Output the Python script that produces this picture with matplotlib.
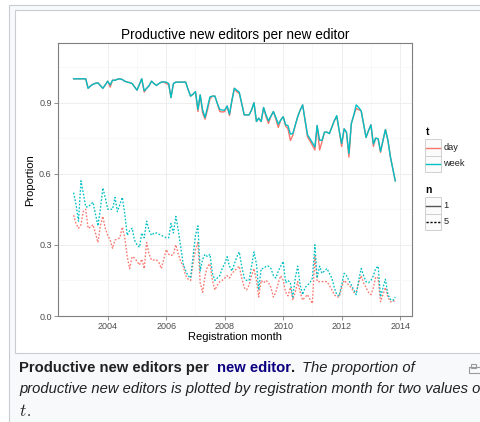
import numpy as np
import pandas as pd
import matplotlib
matplotlib.use('Agg')
import matplotlib.pyplot as plt
from matplotlib.patches import Rectangle

plt.rcParams['font.family'] = ['Liberation Sans', 'DejaVu Sans']
plt.rcParams['mathtext.fontset'] = 'cm'

# monthly cohorts, Nov 2002 .. Nov 2013
months = pd.date_range('2002-11-01', '2013-11-01', freq='MS')

# proportion of productive new editors, n = 1 edit
week_n1 = [1.0, 1.0, 1.0, 1.0, 1.0, 1.0, 0.96, 0.97, 0.977, 0.981,
           0.983, 0.972, 0.96, 0.974, 0.99, 0.974, 0.994, 0.994, 0.998, 1.0,
           0.997, 0.99, 0.986, 0.984, 0.98, 0.966, 0.952, 0.977, 1.0, 0.949,
           0.96, 0.971, 0.99, 0.98, 0.972, 0.98, 0.986, 0.987, 0.986, 0.98,
           0.921, 0.98, 0.986, 0.986, 0.986, 0.986, 0.986, 0.955, 0.927, 0.935,
           0.946, 0.871, 0.932, 0.868, 0.837, 0.882, 0.924, 0.927, 0.927, 0.896,
           0.871, 0.868, 0.868, 0.885, 0.851, 0.91, 0.96, 0.952, 0.944, 0.896,
           0.848, 0.848, 0.848, 0.868, 0.899, 0.82, 0.834, 0.82, 0.879, 0.847,
           0.823, 0.843, 0.862, 0.837, 0.809, 0.826, 0.84, 0.806, 0.803, 0.767,
           0.769, 0.805, 0.84, 0.868, 0.89, 0.826, 0.764, 0.748, 0.73, 0.713,
           0.803, 0.741, 0.741, 0.775, 0.775, 0.769, 0.797, 0.823, 0.845, 0.783,
           0.727, 0.789, 0.775, 0.685, 0.811, 0.847, 0.89, 0.879, 0.865, 0.811,
           0.753, 0.781, 0.806, 0.725, 0.75, 0.747, 0.694, 0.741, 0.786, 0.741,
           0.671, 0.622, 0.57]
day_n1 = [1.0, 1.0, 1.0, 1.0, 1.0, 1.0, 0.96, 0.97, 0.977, 0.981,
          0.983, 0.972, 0.96, 0.974, 0.99, 0.965, 0.994, 0.994, 0.998, 1.0,
          0.997, 0.99, 0.986, 0.984, 0.98, 0.966, 0.952, 0.977, 1.0, 0.944,
          0.96, 0.971, 0.99, 0.98, 0.972, 0.98, 0.986, 0.987, 0.98, 0.975,
          0.921, 0.98, 0.986, 0.986, 0.986, 0.986, 0.986, 0.955, 0.927, 0.935,
          0.946, 0.862, 0.932, 0.855, 0.83, 0.87, 0.915, 0.927, 0.927, 0.896,
          0.862, 0.86, 0.862, 0.885, 0.845, 0.91, 0.96, 0.945, 0.938, 0.896,
          0.848, 0.848, 0.848, 0.868, 0.899, 0.82, 0.834, 0.82, 0.879, 0.84,
          0.812, 0.843, 0.862, 0.83, 0.795, 0.826, 0.84, 0.8, 0.79, 0.74,
          0.762, 0.805, 0.84, 0.868, 0.89, 0.826, 0.755, 0.738, 0.72, 0.7,
          0.803, 0.7, 0.735, 0.775, 0.775, 0.769, 0.797, 0.823, 0.84, 0.783,
          0.715, 0.789, 0.775, 0.67, 0.811, 0.847, 0.875, 0.87, 0.865, 0.811,
          0.753, 0.781, 0.806, 0.715, 0.75, 0.747, 0.69, 0.741, 0.786, 0.741,
          0.671, 0.622, 0.57]

# n = 5 edits
week_n5 = [0.52, 0.47, 0.40, 0.57, 0.52, 0.46, 0.46, 0.47, 0.48, 0.43,
           0.38, 0.45, 0.54, 0.50, 0.45, 0.45, 0.45, 0.50, 0.44, 0.47,
           0.50, 0.43, 0.34, 0.36, 0.37, 0.32, 0.30, 0.29, 0.35, 0.33,
           0.40, 0.36, 0.34, 0.35, 0.35, 0.345, 0.34, 0.335, 0.33, 0.33,
           0.39, 0.35, 0.42, 0.36, 0.29, 0.22, 0.19, 0.17, 0.16, 0.25,
           0.34, 0.38, 0.19, 0.24, 0.26, 0.25, 0.26, 0.18, 0.15, 0.16,
           0.17, 0.20, 0.22, 0.25, 0.21, 0.19, 0.22, 0.25, 0.27, 0.21,
           0.16, 0.15, 0.15, 0.21, 0.27, 0.22, 0.11, 0.20, 0.20, 0.21,
           0.21, 0.20, 0.17, 0.16, 0.19, 0.21, 0.23, 0.14, 0.15, 0.14,
           0.08, 0.16, 0.21, 0.13, 0.09, 0.12, 0.13, 0.14, 0.16, 0.30,
           0.16, 0.21, 0.18, 0.19, 0.20, 0.18, 0.16, 0.12, 0.09, 0.085,
           0.13, 0.18, 0.17, 0.15, 0.13, 0.11, 0.09, 0.15, 0.20, 0.17,
           0.145, 0.14, 0.15, 0.17, 0.20, 0.21, 0.08, 0.12, 0.155, 0.09,
           0.07, 0.065, 0.08]
day_n5 = [0.425, 0.39, 0.37, 0.385, 0.44, 0.45, 0.37, 0.375, 0.385, 0.35,
          0.31, 0.38, 0.42, 0.37, 0.34, 0.32, 0.285, 0.32, 0.325, 0.33,
          0.375, 0.33, 0.25, 0.20, 0.25, 0.245, 0.23, 0.215, 0.24, 0.20,
          0.31, 0.26, 0.236, 0.236, 0.236, 0.225, 0.20, 0.24, 0.28, 0.26,
          0.255, 0.26, 0.30, 0.26, 0.23, 0.21, 0.17, 0.155, 0.15, 0.22,
          0.28, 0.31, 0.14, 0.10, 0.17, 0.21, 0.22, 0.15, 0.11, 0.13,
          0.145, 0.15, 0.16, 0.17, 0.16, 0.18, 0.19, 0.20, 0.21, 0.16,
          0.12, 0.11, 0.13, 0.17, 0.20, 0.15, 0.08, 0.15, 0.14, 0.15,
          0.14, 0.12, 0.08, 0.10, 0.14, 0.17, 0.15, 0.10, 0.085, 0.12,
          0.067, 0.10, 0.145, 0.10, 0.067, 0.08, 0.09, 0.07, 0.053, 0.25,
          0.145, 0.145, 0.145, 0.145, 0.145, 0.13, 0.11, 0.09, 0.08, 0.08,
          0.12, 0.15, 0.14, 0.13, 0.12, 0.10, 0.10, 0.14, 0.17, 0.14,
          0.12, 0.10, 0.09, 0.12, 0.165, 0.16, 0.06, 0.09, 0.12, 0.08,
          0.06, 0.06, 0.067]

year_ticks = [2004, 2006, 2008, 2010, 2012, 2014]
prop_ticks = [0.0, 0.3, 0.6, 0.9]

RED = '#F8766D'
CYAN = '#00BFC4'
DASH = (1.3, 1.3)

W, H = 481, 422
fig = plt.figure(figsize=(W / 100, H / 100), dpi=100)

# page frame around the figure (pixel coordinates)
bg = fig.add_axes([0, 0, 1, 1])
bg.set_xlim(0, W)
bg.set_ylim(H, 0)
bg.axis('off')
bg.add_patch(Rectangle((9.5, 4.5), 490, 440, facecolor='#f8f9fa',
                       edgecolor='#c8ccd1', lw=0.8))
bg.add_patch(Rectangle((15.5, 9.5), 480, 343, facecolor='white',
                       edgecolor='#c8ccd1', lw=0.8))

# plot panel
ax = fig.add_axes([58 / W, 1 - 316 / H, 354 / W, 273 / H])
ax.plot(months, day_n1, color=RED, lw=1.0)
ax.plot(months, day_n5, color=RED, lw=0.95, dashes=DASH)
ax.plot(months, week_n1, color=CYAN, lw=1.0)
ax.plot(months, week_n5, color=CYAN, lw=0.95, dashes=DASH)

ax.set_xlim(pd.Timestamp('2002-04-20'), pd.Timestamp('2014-05-29'))
ax.set_ylim(0, 1.151)
ax.set_xticks([pd.Timestamp(f'{y}-01-01') for y in year_ticks])
ax.set_xticklabels([str(y) for y in year_ticks])
ax.set_xticks([pd.Timestamp(f'{y + 1}-01-01') for y in year_ticks[:-1]], minor=True)
ax.set_yticks(prop_ticks)
ax.set_yticklabels([f'{v:.1f}' for v in prop_ticks])
ax.set_yticks([0.15, 0.45, 0.75, 1.05], minor=True)
ax.grid(True, which='major', color='#ebebeb', lw=0.6)
ax.grid(True, which='minor', color='#f6f6f6', lw=0.5)
ax.set_axisbelow(True)
ax.tick_params(which='major', length=3, width=0.6, color='#7f7f7f',
               labelsize=6.5, labelcolor='#4d4d4d', pad=1.5)
ax.tick_params(which='minor', length=0)
for s in ax.spines.values():
    s.set_color('#7f7f7f')
    s.set_linewidth(0.8)

bg.text(235, 38.5, 'Productive new editors per new editor', ha='center',
        va='baseline', fontsize=9.8, color='black')
bg.text(30, 180, 'Proportion', rotation=90, ha='center', va='center',
        fontsize=8, color='black')
bg.text(235, 337, 'Registration month', ha='center', va='center',
        fontsize=8, color='black')

# legends
def key(y0, color, dashed=False):
    bg.add_patch(Rectangle((425, y0), 16.5, 16.5, facecolor='#fbfbfb',
                           edgecolor='#d0d0d0', lw=0.7))
    ls = dict(dashes=(1.6, 1.2)) if dashed else {}
    bg.plot([426.5, 440], [y0 + 8.25] * 2, color=color, lw=1.0, **ls)

bg.text(425.5, 131.7, 't', fontsize=7.5, fontweight='bold', va='center')
key(139.3, RED)
key(155.8, CYAN)
bg.text(443.3, 147.5, 'day', fontsize=6.7, va='center', color='#222222')
bg.text(443.3, 164, 'week', fontsize=6.7, va='center', color='#222222')

bg.text(425.5, 190, 'n', fontsize=7.5, fontweight='bold', va='center')
key(197.3, '#555555')
key(213.8, 'black', dashed=True)
bg.text(443.3, 205.5, '1', fontsize=6.7, va='center', color='#222222')
bg.text(443.3, 222, '5', fontsize=6.7, va='center', color='#222222')

# caption
renderer = fig.canvas.get_renderer()
inv = bg.transData.inverted()

def right_edge(t):
    bb = t.get_window_extent(renderer=renderer)
    return inv.transform((bb.x1, bb.y0))[0]

cap = 10.6
bg.text(19, 371.7, 'Productive new editors per', fontsize=cap,
        fontweight='bold', va='baseline', color='#202122')
link = bg.text(216.7, 371.7, 'new editor', fontsize=cap, fontweight='bold',
               va='baseline', color='#0b0080')
bg.text(right_edge(link) + 0.3, 371.7, '.', fontsize=cap, fontweight='bold',
        va='baseline', color='#202122')
bg.text(302, 371.7, 'The proportion of', fontsize=cap, style='italic',
        va='baseline', color='#202122')
bg.text(19, 393.3, 'productive new editors is plotted by registration month '
        'for two values of', fontsize=cap, style='italic', va='baseline',
        color='#202122')
tt = bg.text(19, 416, r'$t$', fontsize=12.5, va='baseline', color='#202122')
bg.text(right_edge(tt) - 0.5, 416, '.', fontsize=cap, va='baseline',
        color='#202122')

# enlarge icon
bg.add_patch(Rectangle((471.5, 363.5), 5, 4, facecolor='none',
                       edgecolor='#9a9a9a', lw=0.8))
bg.add_patch(Rectangle((469.5, 366.5), 12, 6, facecolor='none',
                       edgecolor='#9a9a9a', lw=0.8))

fig.savefig('out.png', dpi=100)
